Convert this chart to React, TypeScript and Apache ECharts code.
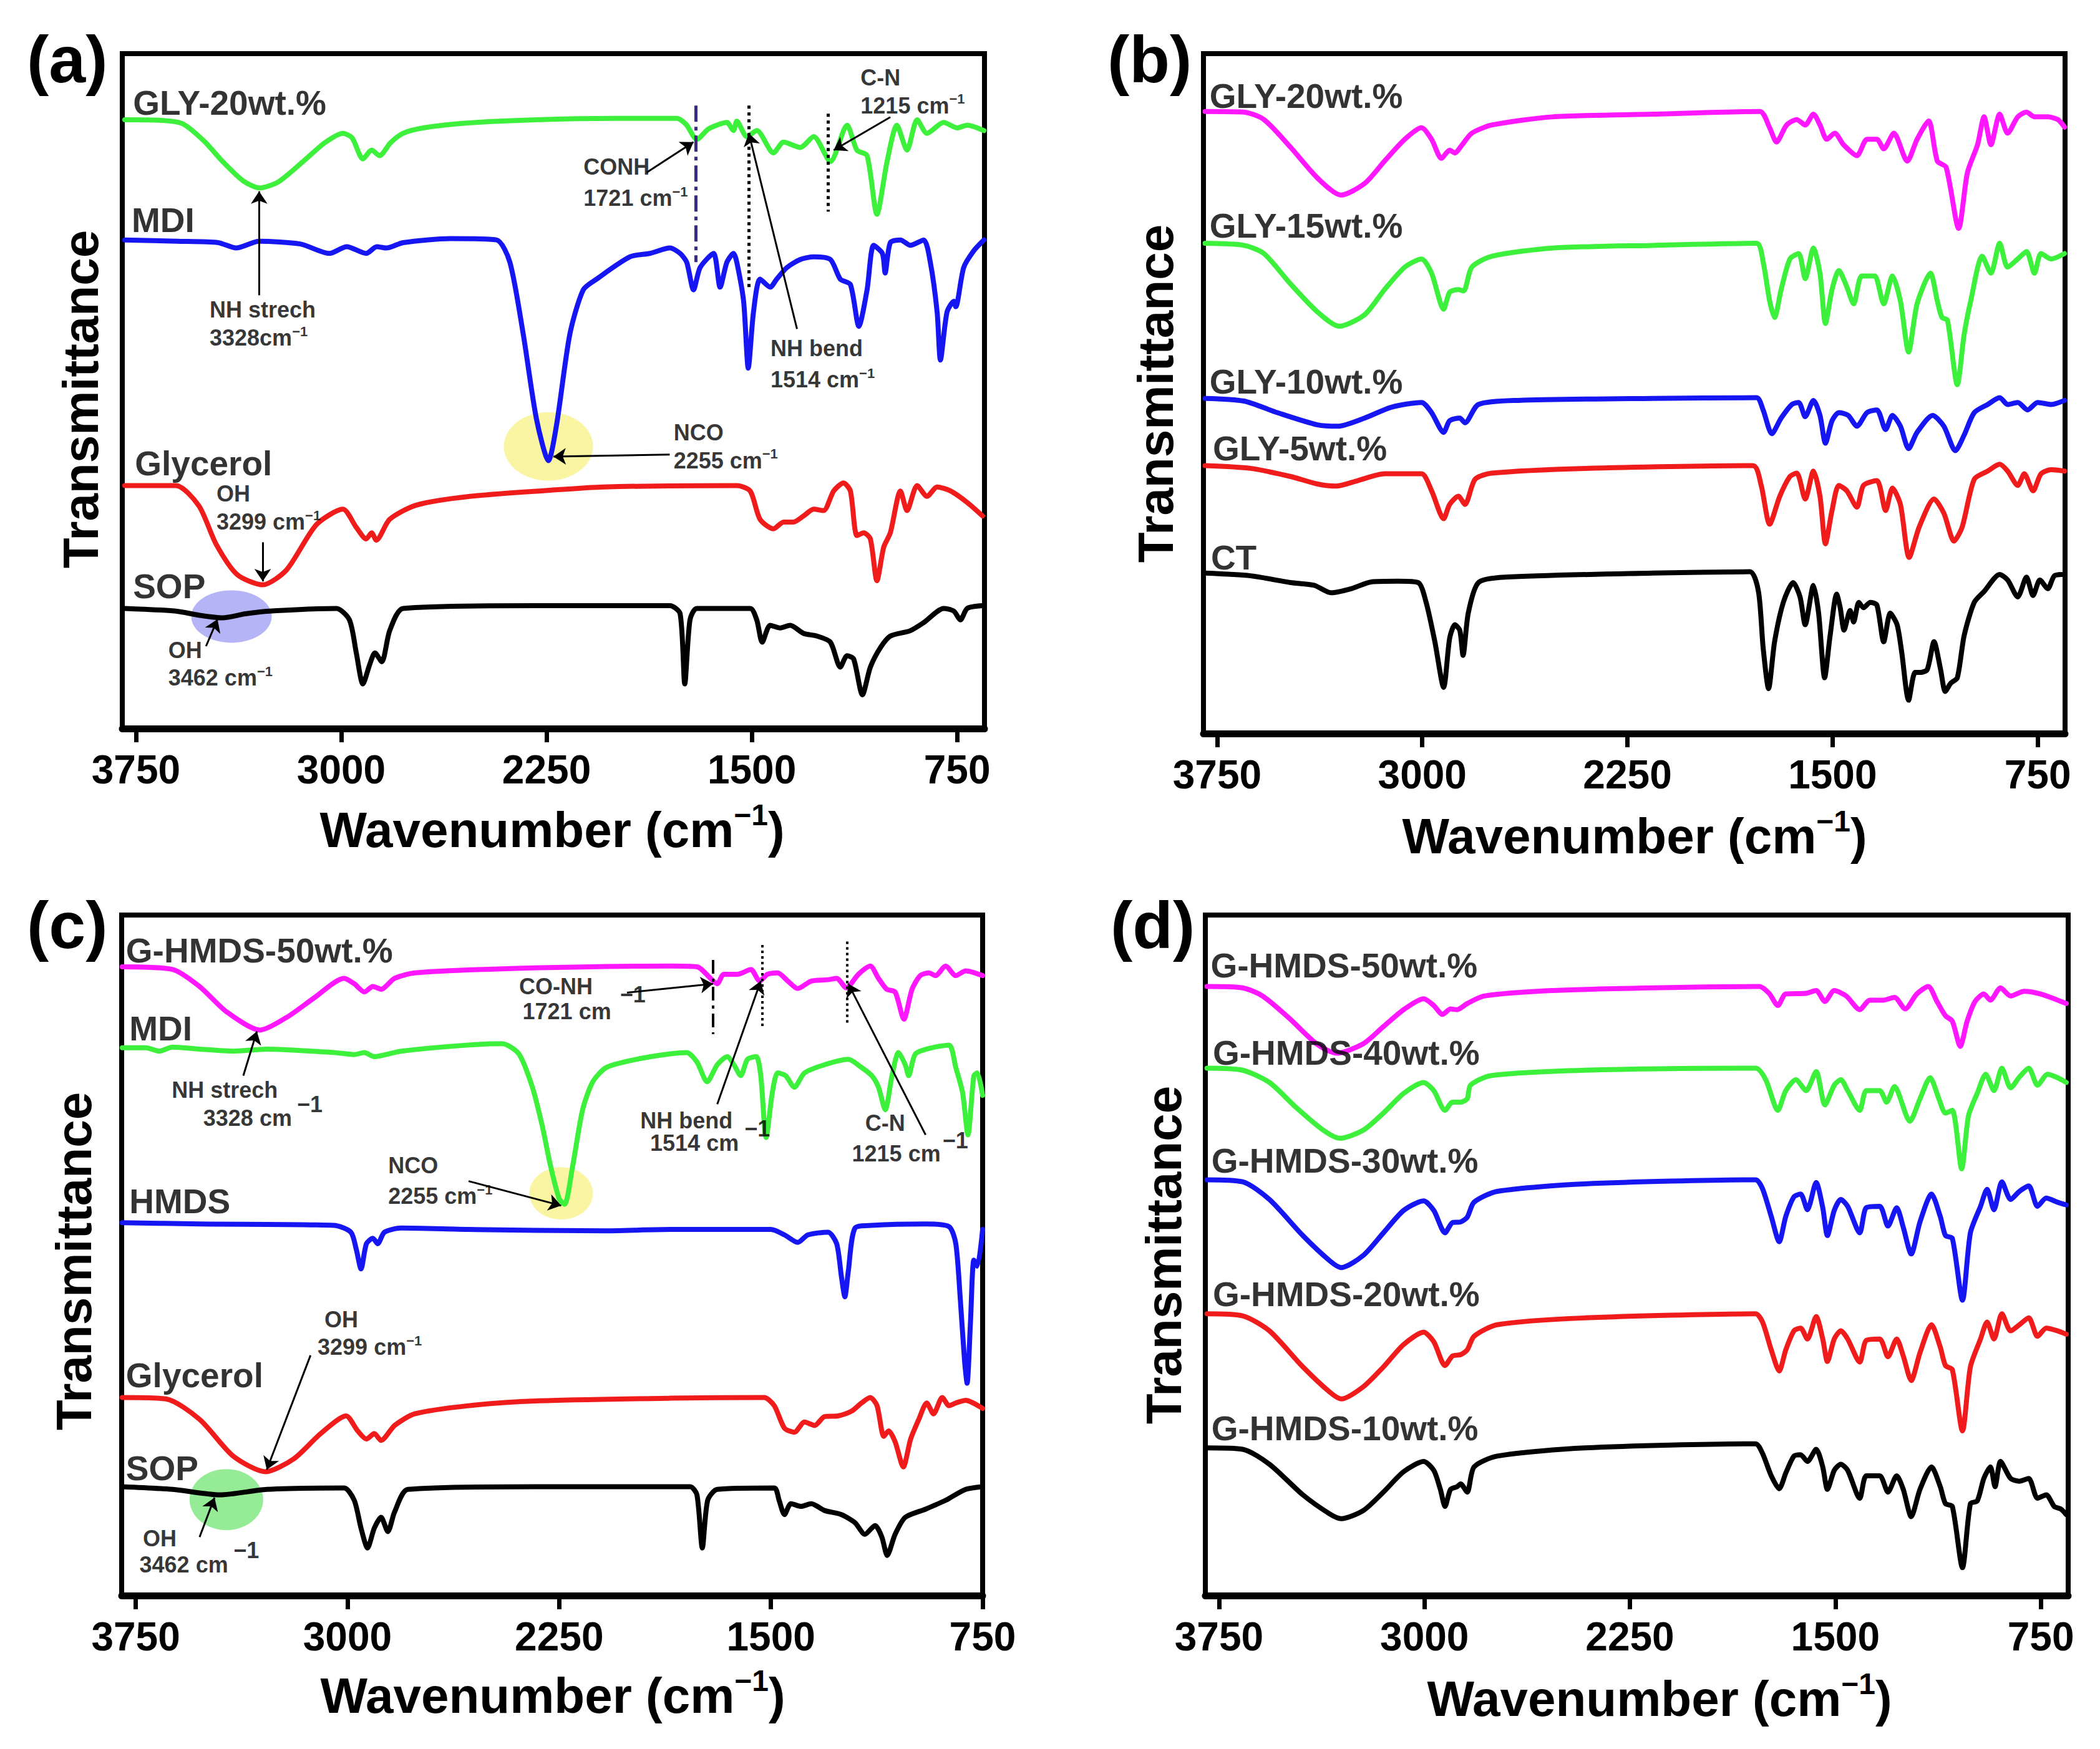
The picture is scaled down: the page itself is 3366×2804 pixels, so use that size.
import React, { useEffect, useRef } from "react";
import * as echarts from "echarts";

// ---------- spectra: [wavenumber (cm-1), stacked transmittance (a.u.)] ----------

// (a) precursors and GLY-20wt.%
const glyA20 = [[3791, 90.2], [3650, 90.1], [3579, 89.6], [3500, 87.0], [3433, 84.0], [3360, 81.2], [3299, 80.1], [3230, 81.0], [3140, 84.0], [3060, 86.8], [2994, 88.2], [2960, 87.5], [2921, 84.4], [2889, 85.7], [2860, 84.9], [2820, 86.8], [2774, 88.2], [2700, 89.0], [2550, 89.7], [2287, 90.2], [2000, 90.4], [1774, 90.4], [1740, 89.5], [1701, 87.3], [1660, 88.8], [1628, 89.4], [1591, 89.8], [1567, 88.6], [1555, 90.0], [1518, 87.7], [1482, 88.6], [1421, 85.3], [1384, 86.9], [1323, 86.1], [1274, 87.7], [1213, 84.0], [1152, 89.4], [1116, 85.7], [1079, 84.9], [1043, 76.2], [1006, 84.0], [970, 89.4], [933, 85.7], [896, 90.2], [860, 88.2], [799, 89.8], [750, 89.0], [713, 89.4], [652, 88.6]];
const mdiA = [[3791, 72.4], [3600, 72.2], [3450, 72.0], [3384, 71.2], [3300, 72.2], [3150, 71.8], [3043, 70.4], [2980, 71.4], [2909, 70.4], [2870, 71.4], [2835, 71.2], [2774, 72.0], [2600, 72.6], [2433, 72.4], [2384, 69.1], [2335, 58.4], [2287, 45.9], [2243, 39.7], [2213, 45.1], [2165, 58.4], [2116, 65.0], [2067, 66.6], [1945, 69.9], [1872, 70.4], [1799, 71.2], [1762, 70.4], [1738, 69.1], [1713, 65.0], [1689, 68.3], [1640, 70.4], [1616, 65.4], [1591, 69.1], [1567, 70.4], [1555, 69.1], [1530, 63.3], [1513, 53.4], [1494, 61.7], [1470, 66.6], [1433, 65.4], [1409, 66.6], [1372, 68.3], [1323, 69.5], [1274, 69.9], [1213, 69.5], [1177, 66.6], [1140, 65.8], [1109, 59.6], [1079, 65.0], [1055, 71.6], [1023, 70.4], [1013, 67.5], [994, 72.0], [957, 72.4], [921, 71.6], [872, 72.4], [848, 69.1], [823, 61.7], [811, 54.6], [787, 61.7], [762, 63.3], [755, 62.5], [726, 68.3], [689, 70.8], [652, 72.4]];
const glycerolA = [[3791, 36.0], [3604, 36.0], [3520, 33.0], [3457, 27.3], [3380, 22.8], [3287, 21.3], [3200, 23.5], [3091, 30.2], [2994, 32.5], [2945, 29.8], [2909, 28.1], [2889, 29.0], [2872, 27.9], [2823, 31.0], [2726, 33.1], [2530, 34.4], [2238, 35.3], [2043, 35.8], [1555, 36.0], [1506, 35.2], [1470, 31.0], [1421, 29.6], [1384, 30.6], [1348, 30.6], [1311, 31.5], [1274, 32.5], [1238, 32.3], [1201, 35.2], [1165, 36.4], [1140, 35.2], [1116, 28.6], [1091, 29.0], [1067, 28.1], [1043, 21.9], [1018, 26.9], [994, 29.0], [957, 35.2], [933, 32.3], [896, 36.0], [860, 34.4], [823, 35.8], [774, 35.2], [713, 33.5], [657, 31.5]];
const sopA = [[3791, 17.8], [3604, 17.4], [3520, 16.8], [3433, 16.4], [3350, 17.0], [3262, 17.4], [3018, 17.8], [2970, 16.1], [2945, 11.2], [2921, 6.6], [2896, 9.5], [2877, 11.2], [2852, 9.9], [2823, 14.5], [2774, 17.8], [2287, 18.2], [1799, 18.2], [1762, 17.0], [1745, 6.6], [1726, 16.1], [1701, 17.8], [1506, 17.8], [1482, 16.1], [1462, 12.8], [1433, 15.3], [1396, 14.9], [1360, 15.3], [1311, 14.1], [1262, 13.7], [1213, 12.8], [1177, 9.1], [1152, 10.8], [1128, 10.3], [1096, 5.0], [1067, 9.1], [1030, 12.0], [994, 13.7], [921, 14.5], [872, 15.7], [799, 17.8], [762, 17.4], [738, 16.1], [713, 17.8], [657, 18.2]];

// (b) glycerol series
const gly20B = [[3794, 91.5], [3652, 91.4], [3579, 90.3], [3481, 86.2], [3383, 81.7], [3297, 79.2], [3211, 80.9], [3138, 84.2], [3064, 87.4], [3003, 89.1], [2966, 87.4], [2930, 84.6], [2900, 85.8], [2881, 85.4], [2856, 86.5], [2819, 88.3], [2746, 89.5], [2525, 90.7], [2158, 91.1], [1766, 91.5], [1730, 89.1], [1705, 87.0], [1668, 89.5], [1631, 90.3], [1600, 89.5], [1570, 91.1], [1546, 89.5], [1521, 87.4], [1492, 88.3], [1460, 86.6], [1411, 85.0], [1374, 87.4], [1338, 87.4], [1313, 86.0], [1276, 88.3], [1227, 84.2], [1191, 87.4], [1149, 90.1], [1117, 84.2], [1085, 83.3], [1039, 74.3], [1007, 82.5], [970, 86.6], [946, 90.7], [921, 86.6], [889, 91.1], [860, 88.3], [823, 90.7], [791, 91.4], [762, 90.7], [713, 90.7], [676, 90.3], [652, 89.2]];
const gly15B = [[3794, 72.1], [3652, 71.8], [3579, 70.6], [3481, 66.1], [3383, 62.0], [3304, 59.9], [3211, 61.6], [3138, 65.3], [3064, 68.6], [3003, 69.8], [2966, 67.7], [2922, 62.4], [2900, 64.9], [2868, 65.3], [2849, 65.1], [2819, 68.6], [2746, 70.2], [2525, 71.4], [2158, 71.8], [1778, 72.1], [1754, 69.4], [1730, 63.6], [1712, 61.2], [1688, 65.3], [1656, 69.8], [1624, 70.6], [1600, 66.9], [1570, 71.4], [1546, 67.7], [1526, 60.3], [1502, 65.3], [1477, 68.1], [1448, 65.7], [1423, 63.2], [1394, 67.3], [1362, 67.3], [1345, 67.3], [1313, 63.2], [1281, 67.3], [1252, 63.6], [1222, 56.1], [1191, 63.2], [1142, 67.7], [1117, 63.6], [1100, 61.2], [1080, 60.8], [1044, 51.3], [1019, 58.7], [995, 63.6], [953, 70.2], [921, 67.7], [889, 72.1], [860, 68.6], [823, 69.8], [791, 70.9], [762, 67.7], [738, 70.6], [701, 69.8], [652, 70.6]];
const gly10B = [[3794, 49.3], [3652, 48.9], [3530, 47.2], [3383, 45.4], [3309, 45.2], [3211, 46.4], [3113, 48.0], [3003, 48.7], [2966, 47.2], [2922, 44.3], [2900, 46.0], [2863, 46.4], [2844, 45.7], [2795, 48.4], [2648, 49.0], [2158, 49.3], [1778, 49.4], [1754, 47.6], [1722, 44.1], [1688, 46.4], [1649, 48.4], [1624, 48.7], [1600, 46.6], [1570, 49.0], [1546, 46.8], [1526, 42.7], [1502, 46.0], [1477, 47.2], [1443, 46.8], [1411, 45.2], [1374, 47.2], [1338, 47.6], [1306, 44.7], [1281, 46.8], [1252, 45.2], [1222, 41.9], [1191, 44.3], [1134, 46.8], [1093, 45.2], [1051, 41.6], [1019, 43.9], [982, 47.2], [933, 48.4], [889, 49.4], [860, 48.4], [823, 48.7], [787, 47.6], [750, 48.7], [701, 48.4], [652, 49.0]];
const gly5B = [[3794, 39.4], [3628, 39.0], [3481, 37.8], [3383, 36.7], [3314, 36.4], [3236, 37.2], [3138, 38.2], [3003, 38.2], [2966, 35.7], [2922, 31.6], [2900, 33.7], [2868, 34.9], [2844, 33.7], [2807, 37.4], [2746, 38.3], [2403, 39.0], [1791, 39.4], [1761, 36.5], [1730, 30.8], [1693, 34.9], [1656, 37.8], [1631, 38.3], [1600, 34.5], [1570, 38.6], [1546, 34.9], [1526, 27.9], [1502, 32.8], [1477, 36.5], [1448, 35.7], [1411, 33.3], [1387, 36.5], [1338, 37.2], [1306, 32.8], [1281, 36.1], [1252, 33.7], [1220, 25.9], [1183, 30.4], [1129, 34.5], [1093, 32.4], [1056, 28.3], [1026, 30.4], [982, 37.4], [933, 38.6], [889, 39.6], [860, 38.6], [823, 36.5], [799, 38.2], [767, 35.7], [738, 38.2], [701, 38.8], [652, 38.6]];
const ctB = [[3794, 23.6], [3628, 23.2], [3481, 22.2], [3395, 21.8], [3334, 20.7], [3260, 21.3], [3187, 22.3], [3089, 22.4], [3015, 22.2], [2986, 19.3], [2954, 13.5], [2922, 6.8], [2900, 14.0], [2881, 16.0], [2863, 15.2], [2851, 11.5], [2832, 17.7], [2795, 22.2], [2697, 23.0], [2158, 23.6], [1803, 23.8], [1771, 20.9], [1754, 12.7], [1734, 6.6], [1712, 13.5], [1680, 19.3], [1644, 22.2], [1619, 20.1], [1600, 16.0], [1570, 21.8], [1551, 17.7], [1529, 8.2], [1509, 14.4], [1485, 20.5], [1472, 18.5], [1458, 15.2], [1436, 18.1], [1423, 16.4], [1404, 19.3], [1387, 18.5], [1362, 19.3], [1338, 18.9], [1313, 13.5], [1289, 17.7], [1264, 16.0], [1247, 11.9], [1222, 4.9], [1198, 9.0], [1178, 9.0], [1154, 9.4], [1129, 13.5], [1105, 9.4], [1088, 6.2], [1068, 7.4], [1044, 8.2], [1019, 14.4], [982, 19.3], [946, 20.9], [889, 23.4], [860, 22.6], [823, 20.1], [791, 23.0], [767, 20.3], [742, 22.6], [713, 21.3], [689, 23.2], [652, 23.4]];

// (c) precursors and G-HMDS-50wt.%
const hmds50C = [[3798, 92.4], [3619, 92.0], [3524, 89.5], [3429, 85.8], [3310, 83.1], [3214, 85.0], [3119, 87.8], [3012, 90.7], [2976, 89.9], [2940, 88.7], [2910, 89.5], [2881, 89.1], [2833, 90.7], [2762, 91.5], [2452, 92.1], [1857, 92.5], [1762, 92.4], [1714, 90.7], [1690, 89.9], [1667, 91.3], [1619, 91.3], [1571, 92.0], [1540, 90.3], [1512, 91.3], [1476, 91.5], [1440, 90.3], [1405, 89.2], [1357, 90.3], [1298, 90.5], [1267, 90.7], [1233, 89.3], [1190, 91.3], [1148, 92.5], [1119, 90.7], [1090, 89.1], [1060, 88.7], [1029, 84.7], [1000, 89.1], [971, 91.1], [940, 91.5], [917, 91.1], [881, 92.5], [845, 91.1], [810, 91.8], [750, 91.1]];
const mdiC = [[3798, 80.5], [3714, 80.5], [3667, 80.0], [3620, 80.6], [3524, 80.3], [3405, 80.0], [3286, 80.3], [3048, 79.8], [2976, 79.5], [2940, 79.8], [2905, 79.2], [2810, 80.0], [2571, 80.9], [2452, 81.1], [2393, 79.6], [2345, 74.7], [2310, 69.0], [2281, 63.2], [2250, 58.3], [2231, 57.5], [2202, 63.2], [2167, 71.4], [2131, 75.5], [2083, 77.6], [1976, 78.8], [1857, 79.6], [1798, 79.8], [1762, 78.4], [1726, 75.5], [1690, 78.0], [1655, 79.2], [1631, 78.0], [1607, 76.4], [1583, 78.8], [1552, 79.2], [1536, 76.4], [1517, 67.3], [1495, 73.9], [1476, 76.8], [1448, 76.4], [1417, 74.7], [1381, 76.8], [1310, 78.0], [1226, 78.8], [1179, 77.6], [1143, 76.4], [1119, 74.7], [1095, 71.4], [1071, 76.4], [1048, 79.8], [1024, 78.0], [1012, 76.4], [988, 79.6], [929, 80.5], [869, 80.9], [845, 77.6], [821, 73.9], [802, 67.7], [781, 76.4], [769, 76.8], [750, 73.5]];
const hmdsC = [[3798, 54.8], [3524, 54.6], [3048, 54.4], [2988, 53.4], [2969, 50.9], [2952, 48.0], [2933, 51.7], [2910, 52.5], [2893, 51.7], [2869, 53.4], [2810, 54.0], [2571, 53.8], [2095, 53.6], [1857, 53.8], [1500, 53.8], [1452, 53.0], [1405, 51.9], [1369, 53.0], [1298, 53.4], [1267, 51.7], [1250, 46.8], [1238, 43.9], [1226, 47.6], [1202, 54.0], [1143, 54.4], [952, 54.6], [869, 54.2], [845, 51.7], [829, 43.5], [814, 34.5], [805, 31.2], [793, 40.2], [781, 49.3], [769, 48.4], [750, 53.8]];
const glycerolC = [[3798, 29.1], [3643, 28.9], [3524, 25.9], [3405, 20.5], [3290, 18.2], [3190, 20.1], [3095, 23.8], [3005, 26.4], [2964, 24.2], [2933, 23.0], [2905, 23.8], [2881, 22.8], [2833, 25.0], [2762, 26.7], [2571, 27.9], [2333, 28.6], [1857, 29.0], [1524, 29.1], [1488, 27.9], [1452, 24.6], [1417, 24.0], [1381, 25.5], [1345, 25.0], [1310, 26.3], [1262, 26.4], [1214, 27.1], [1179, 28.3], [1148, 29.1], [1124, 27.9], [1100, 23.4], [1083, 24.2], [1060, 22.6], [1031, 18.9], [1005, 23.0], [976, 25.9], [948, 28.3], [924, 26.7], [893, 29.1], [869, 27.9], [845, 28.3], [810, 28.7], [750, 27.5]];
const sopC = [[3798, 16.0], [3619, 15.6], [3452, 14.8], [3286, 15.6], [3012, 15.8], [2976, 14.0], [2952, 9.9], [2929, 7.0], [2905, 9.9], [2881, 11.5], [2857, 9.4], [2833, 12.3], [2786, 15.6], [2333, 16.0], [1786, 16.0], [1762, 14.8], [1743, 7.0], [1724, 14.0], [1690, 15.6], [1488, 15.8], [1471, 14.0], [1452, 11.9], [1429, 13.5], [1393, 13.1], [1357, 13.5], [1310, 12.5], [1250, 11.9], [1202, 10.7], [1167, 9.0], [1131, 10.3], [1107, 8.6], [1088, 5.9], [1060, 9.0], [1024, 11.5], [952, 12.7], [881, 14.0], [810, 15.6], [750, 16.0]];

// (d) G-HMDS series
const hmds50D = [[3794, 89.5], [3664, 89.3], [3591, 88.1], [3493, 84.8], [3395, 81.1], [3321, 79.7], [3223, 81.1], [3150, 83.6], [3076, 86.1], [3003, 87.7], [2966, 86.7], [2934, 85.4], [2905, 86.2], [2881, 86.1], [2844, 87.0], [2783, 88.1], [2538, 88.9], [2170, 89.3], [1778, 89.5], [1742, 88.5], [1710, 86.7], [1681, 88.4], [1607, 88.5], [1570, 88.9], [1538, 87.3], [1504, 88.9], [1460, 88.1], [1411, 86.1], [1374, 87.5], [1325, 87.5], [1284, 87.9], [1245, 86.2], [1203, 88.4], [1161, 89.5], [1129, 87.3], [1098, 85.2], [1073, 84.4], [1044, 80.7], [1019, 84.4], [990, 87.3], [958, 88.4], [934, 87.5], [897, 89.3], [860, 88.1], [811, 88.8], [750, 88.4], [689, 87.5], [657, 87.0]];
const hmds40D = [[3794, 77.5], [3664, 77.2], [3566, 75.4], [3468, 71.7], [3370, 68.4], [3309, 67.2], [3223, 68.4], [3150, 70.9], [3076, 73.8], [3003, 75.4], [2966, 74.2], [2925, 71.3], [2898, 72.5], [2868, 72.5], [2844, 73.0], [2832, 75.0], [2758, 76.4], [2415, 77.2], [1791, 77.5], [1754, 75.8], [1710, 71.3], [1681, 74.2], [1644, 75.8], [1607, 74.2], [1570, 77.0], [1538, 72.1], [1504, 75.0], [1480, 75.8], [1455, 74.2], [1411, 71.3], [1387, 74.2], [1338, 74.2], [1313, 72.5], [1284, 74.8], [1228, 69.7], [1191, 73.0], [1154, 76.1], [1122, 73.0], [1098, 70.9], [1073, 71.3], [1039, 62.7], [1014, 70.5], [982, 73.8], [951, 76.6], [921, 74.2], [892, 77.5], [860, 74.6], [828, 76.2], [794, 77.5], [762, 75.0], [725, 76.6], [689, 76.1], [657, 75.4]];
const hmds30D = [[3794, 61.1], [3664, 60.8], [3566, 58.2], [3444, 52.9], [3346, 49.2], [3304, 48.2], [3223, 50.0], [3150, 53.3], [3076, 56.6], [3003, 58.0], [2966, 56.6], [2925, 53.3], [2898, 54.8], [2868, 54.9], [2844, 55.6], [2819, 57.8], [2734, 59.4], [2415, 60.5], [1791, 61.1], [1766, 59.8], [1734, 55.7], [1705, 52.0], [1681, 55.7], [1651, 58.6], [1627, 59.0], [1602, 56.7], [1570, 60.7], [1546, 57.0], [1529, 52.9], [1504, 56.6], [1480, 58.2], [1455, 57.2], [1411, 53.3], [1387, 57.0], [1338, 57.2], [1308, 54.3], [1276, 57.0], [1252, 54.1], [1223, 50.2], [1191, 54.9], [1149, 59.0], [1117, 55.7], [1098, 52.9], [1073, 52.5], [1036, 43.4], [1007, 53.3], [970, 57.2], [946, 59.7], [921, 56.7], [892, 60.8], [860, 58.2], [828, 59.4], [794, 60.2], [762, 57.2], [730, 58.4], [689, 57.8], [657, 57.4]];
const hmds20D = [[3794, 41.4], [3664, 41.1], [3566, 38.9], [3444, 33.6], [3346, 29.9], [3304, 28.9], [3223, 30.7], [3150, 33.6], [3076, 36.9], [3003, 38.7], [2966, 37.3], [2925, 33.8], [2898, 35.2], [2868, 35.4], [2844, 36.1], [2819, 38.1], [2734, 39.8], [2415, 40.8], [1791, 41.4], [1766, 40.2], [1734, 36.1], [1705, 33.0], [1681, 36.1], [1651, 38.9], [1627, 39.3], [1602, 37.7], [1570, 41.0], [1546, 37.7], [1529, 34.4], [1504, 37.7], [1480, 38.9], [1455, 37.7], [1411, 34.3], [1387, 37.5], [1338, 37.7], [1308, 35.1], [1276, 37.7], [1252, 35.2], [1223, 31.6], [1191, 35.7], [1149, 39.8], [1117, 36.5], [1098, 33.8], [1073, 33.2], [1036, 24.2], [1007, 33.6], [970, 37.7], [946, 40.2], [921, 37.7], [892, 41.4], [860, 38.9], [828, 39.8], [794, 40.8], [762, 38.1], [730, 39.3], [689, 38.9], [657, 38.4]];
const hmds10D = [[3794, 21.7], [3664, 21.5], [3566, 19.3], [3444, 14.8], [3346, 12.0], [3304, 11.3], [3223, 12.5], [3150, 15.2], [3076, 18.2], [3003, 19.7], [2966, 18.4], [2942, 15.6], [2925, 13.1], [2905, 15.6], [2881, 16.0], [2868, 16.4], [2844, 15.2], [2819, 18.9], [2734, 20.5], [2415, 21.7], [1791, 22.3], [1766, 20.9], [1734, 17.6], [1705, 15.7], [1681, 18.0], [1651, 20.5], [1627, 20.7], [1602, 19.7], [1570, 21.5], [1546, 18.9], [1529, 15.6], [1504, 18.4], [1480, 19.3], [1455, 18.4], [1411, 14.3], [1387, 17.6], [1338, 17.6], [1308, 15.2], [1276, 17.6], [1252, 15.6], [1223, 11.6], [1191, 15.6], [1149, 18.9], [1117, 16.0], [1098, 13.5], [1073, 13.1], [1036, 4.1], [1007, 13.5], [982, 13.9], [958, 17.2], [934, 18.9], [917, 16.0], [897, 19.7], [860, 17.2], [828, 16.8], [794, 17.2], [762, 14.3], [730, 14.8], [701, 13.1], [676, 12.7], [657, 11.9]];

// ---------- tick labels and text ----------
const wavenumberTicks = [3750, 3000, 2250, 1500, 750];

// sample names: [text, wavenumber of left edge, level]
const namesA = [["GLY-20wt.%", 3762, 92.7], ["MDI", 3767, 75.3], ["Glycerol", 3755, 39.3], ["SOP", 3762, 21.1]];
const namesB = [["GLY-20wt.%", 3779, 93.8], ["GLY-15wt.%", 3779, 74.7], ["GLY-10wt.%", 3779, 51.7], ["GLY-5wt.%", 3767, 41.9], ["CT", 3774, 25.9]];
const namesC = [["G-HMDS-50wt.%", 3786, 94.8], ["MDI", 3774, 83.3], ["HMDS", 3774, 57.9], ["Glycerol", 3786, 32.4], ["SOP", 3786, 18.7]];
const namesD = [["G-HMDS-50wt.%", 3782, 92.6], ["G-HMDS-40wt.%", 3774, 79.7], ["G-HMDS-30wt.%", 3779, 63.9], ["G-HMDS-20wt.%", 3774, 44.3], ["G-HMDS-10wt.%", 3779, 24.6]];

// band notes ("^" starts a superscript)
const notesA = [
  ["NH strech", 3482, 62.1], ["3328cm^−1", 3482, 57.9],
  ["OH", 3457, 34.8], ["3299 cm^−1", 3457, 30.6],
  ["OH", 3633, 11.6], ["3462 cm^−1", 3633, 7.5],
  ["NCO", 1787, 43.9], ["2255 cm^−1", 1787, 39.7],
  ["CONH", 2116, 83.2], ["1721 cm^−1", 2116, 78.6],
  ["NH bend", 1433, 56.3], ["1514 cm^−1", 1433, 51.7],
  ["C-N", 1104, 96.4], ["1215 cm^−1", 1104, 92.3],
];
const notesC = [
  ["CO-NH", 2393, 89.5], ["1721 cm", 2381, 85.8], ["−1", 2036, 88.3],
  ["NH strech", 3624, 74.3], ["3328 cm", 3512, 70.2], ["−1", 3180, 72.2],
  ["NCO", 2857, 63.2], ["2255 cm^−1", 2857, 58.7],
  ["NH bend", 1964, 69.8], ["1514 cm", 1929, 66.5], ["−1", 1595, 68.6],
  ["C-N", 1167, 69.4], ["1215 cm", 1214, 64.9], ["−1", 893, 66.9],
  ["OH", 3083, 40.6], ["3299 cm^−1", 3107, 36.5],
  ["OH", 3726, 8.4], ["3462 cm", 3738, 4.5], ["−1", 3405, 6.6],
];

// arrows: [from wn, from level, to wn, to level]
const arrowsA = [[3300, 64.2, 3300, 79.6], [3287, 27.6, 3287, 21.8], [3494, 12.2, 3452, 16.2], [1800, 40.6, 2225, 40.3], [1884, 82.4, 1713, 86.9], [1335, 59.2, 1511, 88.2], [994, 90.6, 1201, 85.7]];
const arrowsC = [[2010, 88.6, 1705, 89.9], [3369, 76.4, 3321, 82.9], [2571, 60.9, 2243, 57.3], [1690, 72.2, 1536, 90.3], [952, 67.7, 1226, 89.9], [3131, 35.3, 3286, 18.5], [3524, 8.6, 3471, 14.4]];

// band marker lines: [wn, top level, bottom level]
const amideLineA = [[1705, 92.3, 69.1]];
const bandLinesA = [[1511, 92.3, 65.0], [1221, 91.1, 76.6]];
const amideLineC = [[1705, 93.4, 82.5]];
const bandLinesC = [[1531, 95.6, 83.3], [1231, 96.1, 84.2]];

// highlighted bands: [wn, level]
const ncoSpotA = [2243, 41.8];
const ohSpotA = [3401, 16.6];
const ncoSpotC = [2243, 59.1];
const ohSpotC = [3429, 14.1];

// ---------- styling ----------
const F = '"Liberation Sans", Arial, Helvetica, sans-serif';
const GREEN = "#3cf03c";
const BLUE = "#1616f2";
const RED = "#f01c1c";
const MAGENTA = "#ff18ff";
const BLACK = "#000000";

const panels = [
  { grid: { left: 196, top: 86, width: 1382, height: 1082 }, min: 650 },
  { grid: { left: 1929, top: 86, width: 1381, height: 1090 }, min: 650 },
  { grid: { left: 195, top: 1467, width: 1380, height: 1091 }, min: 750 },
  { grid: { left: 1932, top: 1467, width: 1383, height: 1091 }, min: 650 },
];

function toRich(t: string) {
  const i = t.indexOf("^");
  if (i < 0) return `{n|${t}}`;
  return `{n|${t.slice(0, i)}}{s|${t.slice(i + 1)}}`;
}

function spectrum(p: number, name: string, data: number[][], color: string) {
  return {
    type: "line", name, xAxisIndex: p, yAxisIndex: p, data,
    symbol: "none", showSymbol: false, smooth: 0.25, silent: true, z: 3,
    lineStyle: { color, width: 8, cap: "round", join: "round" },
    itemStyle: { color },
  };
}

function textLayer(p: number, items: any[], size: number) {
  const sup = Math.round(size * 0.62);
  return {
    type: "scatter", xAxisIndex: p, yAxisIndex: p, symbol: "circle", symbolSize: 1,
    silent: true, z: 6, itemStyle: { color: "rgba(0,0,0,0)" },
    label: {
      show: true, position: "right", distance: 0,
      rich: {
        n: { fontSize: size, fontWeight: "bold", fontFamily: F, color: "#000", lineHeight: Math.round(size * 1.2) },
        s: { fontSize: sup, fontWeight: "bold", fontFamily: F, color: "#000", lineHeight: sup, verticalAlign: "top" },
      },
    },
    data: items.map(([t, x, y]) => ({ value: [x, y], label: { formatter: toRich(t) } })),
  };
}

function arrowLayer(p: number, arrows: number[][]) {
  return {
    type: "lines", coordinateSystem: "cartesian2d", xAxisIndex: p, yAxisIndex: p,
    silent: true, z: 5, symbol: ["none", "arrow"], symbolSize: [1, 20],
    lineStyle: { color: "#000", width: 3, opacity: 1, curveness: 0 },
    data: arrows.map(([x1, y1, x2, y2]) => ({ coords: [[x1, y1], [x2, y2]] })),
  };
}

function bandLineLayer(p: number, lines: number[][], color: string, dash: number[], width: number) {
  return {
    type: "lines", coordinateSystem: "cartesian2d", xAxisIndex: p, yAxisIndex: p,
    silent: true, z: 4, symbol: ["none", "none"],
    lineStyle: { color, width, type: dash, opacity: 1, curveness: 0 },
    data: lines.map(([x, y1, y2]) => ({ coords: [[x, y1], [x, y2]] })),
  };
}

function spotLayer(p: number, spots: { at: number[]; size: number[]; color: string }[]) {
  return {
    type: "scatter", xAxisIndex: p, yAxisIndex: p, symbol: "circle", silent: true, z: 1,
    data: spots.map((s) => ({ value: s.at, symbolSize: s.size, itemStyle: { color: s.color } })),
  };
}

function panelText(text: string, x: number, y: number) {
  return {
    type: "text", x, y, silent: true,
    style: { text, fontSize: 106, fontWeight: "bold", fontFamily: F, fill: "#000", textAlign: "left", textVerticalAlign: "middle", align: "left", verticalAlign: "middle" },
  };
}

function yTitle(x: number, y: number) {
  return {
    type: "text", x, y, rotation: Math.PI / 2, silent: true,
    style: { text: "Transmittance", fontSize: 80, fontWeight: "bold", fontFamily: F, fill: "#000", textAlign: "center", textVerticalAlign: "middle", align: "center", verticalAlign: "middle" },
  };
}

function xTitle(x: number, y: number) {
  const part = (fontSize: number, lineHeight: number, va: string) => ({ fontSize, lineHeight, fontWeight: "bold", fontFamily: F, fill: "#000", color: "#000", verticalAlign: va });
  return {
    type: "text", x, y, silent: true,
    style: {
      text: "{m|Wavenumber (cm}{s|−1}{m|)}",
      rich: { m: part(80, 88, "bottom"), s: part(48, 50, "top") },
      fill: "#000", textAlign: "center", textVerticalAlign: "middle", align: "center", verticalAlign: "middle",
    },
  };
}

function buildOption() {
  const grids = panels.map((pn) => ({ ...pn.grid, show: true, borderColor: "#000", borderWidth: 8, backgroundColor: "transparent" }));
  const xAxes = panels.map((pn, i) => ({
    type: "value", gridIndex: i, min: pn.min, max: 3800, inverse: true,
    splitLine: { show: false },
    axisLine: { show: true, onZero: false, lineStyle: { color: "#000", width: 11 } },
    axisTick: { show: true, customValues: wavenumberTicks, length: 22, lineStyle: { color: "#000", width: 7 } },
    axisLabel: {
      show: true, customValues: wavenumberTicks, formatter: (v: number) => String(v),
      fontSize: 64, fontWeight: "bold", fontFamily: F, color: "#000", margin: 34, lineHeight: 64,
    },
  }));
  const yAxes = panels.map((_, i) => ({ type: "value", gridIndex: i, min: 0, max: 100, show: false }));

  const series: any[] = [
    spotLayer(0, [
      { at: ncoSpotA, size: [143, 110], color: "rgba(246,240,120,0.85)" },
      { at: ohSpotA, size: [129, 84], color: "rgba(130,130,240,0.75)" },
    ]),
    spectrum(0, "GLY-20wt.%", glyA20, GREEN),
    spectrum(0, "MDI", mdiA, BLUE),
    spectrum(0, "Glycerol", glycerolA, RED),
    spectrum(0, "SOP", sopA, BLACK),
    bandLineLayer(0, amideLineA, "#3b2a86", [26, 8, 6, 8], 5),
    bandLineLayer(0, bandLinesA, "#000", [5, 6], 5),
    arrowLayer(0, arrowsA),
    textLayer(0, namesA, 55),
    textLayer(0, notesA, 36),

    spectrum(1, "GLY-20wt.%", gly20B, MAGENTA),
    spectrum(1, "GLY-15wt.%", gly15B, GREEN),
    spectrum(1, "GLY-10wt.%", gly10B, BLUE),
    spectrum(1, "GLY-5wt.%", gly5B, RED),
    spectrum(1, "CT", ctB, BLACK),
    textLayer(1, namesB, 55),

    spotLayer(2, [
      { at: ncoSpotC, size: [102, 84], color: "rgba(246,240,120,0.85)" },
      { at: ohSpotC, size: [118, 98], color: "rgba(90,225,90,0.8)" },
    ]),
    spectrum(2, "G-HMDS-50wt.%", hmds50C, MAGENTA),
    spectrum(2, "MDI", mdiC, GREEN),
    spectrum(2, "HMDS", hmdsC, BLUE),
    spectrum(2, "Glycerol", glycerolC, RED),
    spectrum(2, "SOP", sopC, BLACK),
    bandLineLayer(2, amideLineC, "#000", [22, 8, 5, 8], 4),
    bandLineLayer(2, bandLinesC, "#000", [4, 5], 4),
    arrowLayer(2, arrowsC),
    textLayer(2, namesC, 55),
    textLayer(2, notesC, 36),

    spectrum(3, "G-HMDS-50wt.%", hmds50D, MAGENTA),
    spectrum(3, "G-HMDS-40wt.%", hmds40D, GREEN),
    spectrum(3, "G-HMDS-30wt.%", hmds30D, BLUE),
    spectrum(3, "G-HMDS-20wt.%", hmds20D, RED),
    spectrum(3, "G-HMDS-10wt.%", hmds10D, BLACK),
    textLayer(3, namesD, 55),
  ];

  return {
    animation: false,
    backgroundColor: "#ffffff",
    grid: grids,
    xAxis: xAxes,
    yAxis: yAxes,
    series,
    graphic: [
      panelText("(a)", 43, 95),
      panelText("(b)", 1775, 95),
      panelText("(c)", 43, 1483),
      panelText("(d)", 1780, 1483),
      yTitle(129, 640),
      yTitle(1852, 631),
      yTitle(118, 2022),
      yTitle(1865, 2012),
      xTitle(885, 1326),
      xTitle(2620, 1336),
      xTitle(886, 2714),
      xTitle(2660, 2719),
    ],
  };
}

export default function App() {
  const ref = useRef<HTMLDivElement>(null);
  useEffect(() => {
    const chart = echarts.init(ref.current!, null, { renderer: "svg" });
    chart.setOption(buildOption() as any);
    return () => chart.dispose();
  }, []);
  return (
    <div
      ref={ref}
      style={{ position: "absolute", left: 0, top: 0, width: 3366, height: 2804, background: "#fff" }}
    />
  );
}
